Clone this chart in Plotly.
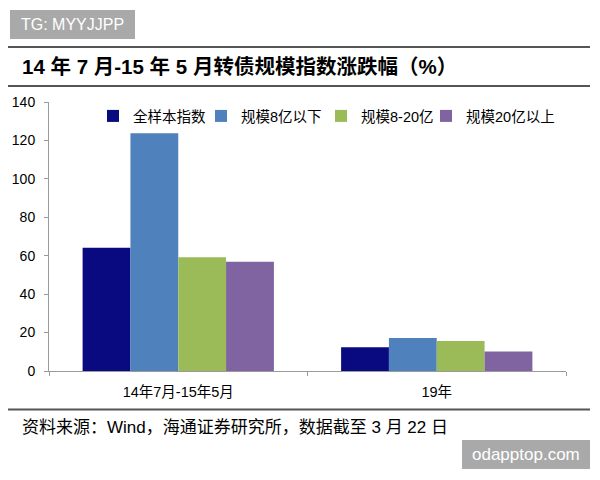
import plotly.graph_objects as go

categories = ["14年7月-15年5月", "19年"]
series_names = ["全样本指数", "规模8亿以下", "规模8-20亿", "规模20亿以上"]
series_values = [
    [64.2, 12.3],
    [123.7, 17.2],
    [59.2, 15.6],
    [56.9, 10.2],
]
colors = ["#0a0a80", "#4f81bd", "#9bbb59", "#8064a2"]
y_ticks = [0, 20, 40, 60, 80, 100, 120, 140]

W, H = 600, 480
L, R, T, B = 49, 566, 102, 371
FONT = "Liberation Sans, Arial, Noto Sans CJK SC"


def px(x):
    return (x - L) / (R - L)


def py(y):
    return (B - y) / (B - T)


legend_ids = ["legend", "legend2", "legend3", "legend4"]
legend_marker_x = [112, 220, 340, 445]

fig = go.Figure()
for name, vals, c, lid in zip(series_names, series_values, colors, legend_ids):
    fig.add_trace(go.Bar(x=categories, y=vals, name=name, legend=lid,
                         marker=dict(color=c, line=dict(width=0))))

shapes = [
    dict(type="line", xref="paper", yref="paper", x0=px(8), x1=px(590), y0=py(47), y1=py(47),
         line=dict(color="#555555", width=2)),
    dict(type="line", xref="paper", yref="paper", x0=px(8), x1=px(590), y0=py(86), y1=py(86),
         line=dict(color="#555555", width=2)),
    dict(type="line", xref="paper", yref="paper", x0=px(8), x1=px(590), y0=py(409.5), y1=py(409.5),
         line=dict(color="#555555", width=2)),
    dict(type="rect", xref="paper", yref="paper", x0=px(10), x1=px(135), y0=py(10), y1=py(39),
         fillcolor="#a9a9a9", line=dict(width=0)),
    dict(type="rect", xref="paper", yref="paper", x0=px(462), x1=px(590), y0=py(440), y1=py(469),
         fillcolor="#a9a9a9", line=dict(width=0)),
]

annotations = [
    dict(text="TG: MYYJJPP", xref="paper", yref="paper", x=px(72.5), y=py(24.5), showarrow=False,
         font=dict(family=FONT, size=16, color="white"), xanchor="center", yanchor="middle"),
    dict(text="odapptop.com", xref="paper", yref="paper", x=px(526), y=py(454.5), showarrow=False,
         font=dict(family=FONT, size=17, color="white"), xanchor="center", yanchor="middle"),
    dict(text="<b>14 年 7 月-15 年 5 月转债规模指数涨跌幅（%）</b>", xref="paper", yref="paper",
         x=px(20), y=py(66.5), showarrow=False, xanchor="left", yanchor="middle",
         font=dict(family=FONT, size=20.5, color="black")),
    dict(text="资料来源：Wind，海通证券研究所，数据截至 3 月 22 日", xref="paper", yref="paper",
         x=px(20), y=py(427), showarrow=False, xanchor="left", yanchor="middle",
         font=dict(family=FONT, size=17, color="black")),
]

legend_common = dict(orientation="h", yanchor="top", xanchor="left", y=py(100),
                     font=dict(family=FONT, size=14.5, color="black"), bgcolor="rgba(0,0,0,0)",
                     itemwidth=30)
legend_layout = {}
for lid, mx in zip(legend_ids, legend_marker_x):
    legend_layout[lid] = dict(legend_common, x=px(mx - 19))

fig.update_layout(
    width=W, height=H,
    margin=dict(l=L, r=W - R, t=T, b=H - B, pad=0),
    paper_bgcolor="white", plot_bgcolor="white",
    barmode="group", bargap=0.26, bargroupgap=0,
    showlegend=True,
    xaxis=dict(showline=True, linecolor="#9a9a9a", linewidth=1, ticks="outside", ticklen=4,
               tickcolor="#9a9a9a", tickson="boundaries", showgrid=False, ticklabelstandoff=8,
               tickfont=dict(family=FONT, size=14.5, color="black")),
    yaxis=dict(range=[0, 140], tickvals=y_ticks, showline=True, linecolor="#9a9a9a", linewidth=1,
               ticks="outside", ticklen=4, tickcolor="#9a9a9a", showgrid=False, zeroline=False,
               ticklabelstandoff=6,
               tickfont=dict(family=FONT, size=14, color="black")),
    shapes=shapes, annotations=annotations,
    **legend_layout,
)

fig.write_html("out.html")
